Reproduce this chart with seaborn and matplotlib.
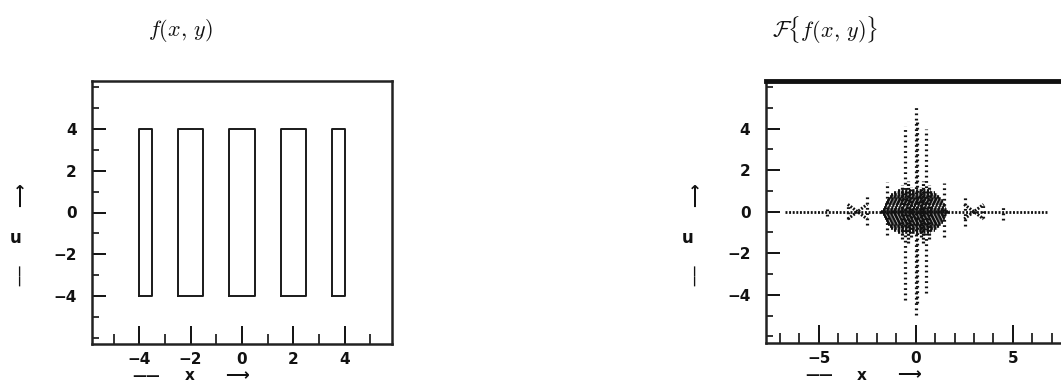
import numpy as np
import pandas as pd
import matplotlib
matplotlib.use("Agg")
import matplotlib.pyplot as plt
import seaborn as sns

# ---- f(x, y): periodic bars of height 8, truncated at |x| = 4 ----
rect_left = [-4.0, -2.5, -0.5, 1.5, 3.5]
rect_right = [-3.5, -1.5, 0.5, 2.5, 4.0]
rect_bottom = -4.0
rect_top = 4.0

# ---- F{f(x, y)}: dotted streaks of the transform magnitude ----
# vertical streaks (u position, lower v, upper v)
col_u = [0.0, 0.08, -0.55, 0.53, -1.5, 1.45, -2.53, 2.52, -3.5, 3.45, -4.55, 4.5]
col_lo = [-4.95, -4.4, -4.25, -3.9, -1.1, -1.2, -0.66, -0.7, -0.35, -0.3, -0.2, -0.4]
col_hi = [5.05, 4.4, 4.1, 4.0, 1.42, 1.4, 0.82, 0.82, 0.35, 0.3, 0.25, 0.3]

# horizontal axis streak along v = 0
axis_from, axis_to = -6.75, 6.75

# dense central lobe, one row per v level (v, left u, right u)
blob_v = [-1.0, -0.9, -0.8, -0.7, -0.6, -0.5, -0.4, -0.3, -0.2, -0.1, 0.0,
          0.1, 0.2, 0.3, 0.4, 0.5, 0.6, 0.7, 0.8, 0.9, 1.0]
blob_left = [-0.9, -1.1, -1.25, -1.35, -1.45, -1.5, -1.55, -1.6, -1.65, -1.7, -1.8,
             -1.7, -1.65, -1.6, -1.55, -1.5, -1.45, -1.35, -1.25, -1.1, -0.9]
blob_right = [0.8, 1.0, 1.15, 1.25, 1.35, 1.4, 1.45, 1.5, 1.55, 1.6, 1.75,
              1.6, 1.55, 1.5, 1.45, 1.4, 1.35, 1.25, 1.15, 1.0, 0.8]

# inner lobes reaching further out along v (u position, lower v, upper v)
lobe_u = [-0.7, -0.4, -0.25, 0.25, 0.4, 0.7]
lobe_lo = [-1.3, -1.5, -1.2, -1.2, -1.5, -1.3]
lobe_hi = [1.3, 1.5, 1.2, 1.2, 1.5, 1.3]

# crossed side lobes (x0, y0, x1, y1)
cross_x0 = [-3.5, -3.5, 2.5, 2.5]
cross_y0 = [0.35, -0.35, 0.35, -0.35]
cross_x1 = [-2.5, -2.5, 3.5, 3.5]
cross_y1 = [-0.35, 0.35, -0.35, 0.35]

# tick labels
left_xticks = [-4, -2, 0, 2, 4]
left_yticks = [-4, -2, 0, 2, 4]
right_xticks = [-5, 0, 5]
right_yticks = [-4, -2, 0, 2, 4]

sns.set_theme(style="white")
plt.rcParams["font.family"] = ["DejaVu Sans"]
plt.rcParams["mathtext.fontset"] = "cm"

W, H = 1061, 385
fig = plt.figure(figsize=(W / 100, H / 100), dpi=100)


def px_box(x0, y0, x1, y1):
    return [x0 / W, 1 - y1 / H, (x1 - x0) / W, (y1 - y0) / H]


ax1 = fig.add_axes(px_box(92, 81, 392, 344))
ax2 = fig.add_axes(px_box(765.7, 80.7, 1065.7, 342.7))

# rectangles as closed outlines
rows = []
for i, (l, r) in enumerate(zip(rect_left, rect_right)):
    xs = [l, r, r, l, l]
    ys = [rect_bottom, rect_bottom, rect_top, rect_top, rect_bottom]
    for k, (x, y) in enumerate(zip(xs, ys)):
        rows.append({"x": x, "y": y, "rect": i, "k": k})
rect_df = pd.DataFrame(rows)
sns.lineplot(data=rect_df, x="x", y="y", units="rect", estimator=None, sort=False,
             color="#1a1a1a", lw=1.4, ax=ax1, legend=False)


def seg_frame(x0, y0, x1, y1):
    out = []
    for i, (a, b, c, d) in enumerate(zip(x0, y0, x1, y1)):
        out.append({"x": a, "y": b, "seg": i})
        out.append({"x": c, "y": d, "seg": i})
    return pd.DataFrame(out)


cols_df = seg_frame(col_u, col_lo, col_u, col_hi)
blob_df = seg_frame(blob_left, blob_v, blob_right, blob_v)
lobe_df = seg_frame(lobe_u, lobe_lo, lobe_u, lobe_hi)
axis_df = seg_frame([axis_from], [0.0], [axis_to], [0.0])
cross_df = seg_frame(cross_x0, cross_y0, cross_x1, cross_y1)

ink = "#111111"
sns.lineplot(data=cols_df, x="x", y="y", units="seg", estimator=None, sort=False,
             color=ink, lw=2.3, linestyle=(0, (0.55, 1.1)), ax=ax2, legend=False)
sns.lineplot(data=blob_df, x="x", y="y", units="seg", estimator=None, sort=False,
             color=ink, lw=2.6, linestyle=(0, (0.6, 0.4)), ax=ax2, legend=False)
sns.lineplot(data=lobe_df, x="x", y="y", units="seg", estimator=None, sort=False,
             color=ink, lw=2.3, linestyle=(0, (0.6, 0.6)), ax=ax2, legend=False)
sns.lineplot(data=axis_df, x="x", y="y", units="seg", estimator=None, sort=False,
             color=ink, lw=2.0, linestyle=(0, (0.7, 0.6)), ax=ax2, legend=False)
sns.lineplot(data=cross_df, x="x", y="y", units="seg", estimator=None, sort=False,
             color=ink, lw=2.2, linestyle=(0, (0.6, 0.5)), ax=ax2, legend=False)

tick_font = dict(fontsize=11, fontweight="bold", color="#111111")

for ax, xlim, xt, yt in [
    (ax1, 5.84, left_xticks, left_yticks),
    (ax2, 7.73, right_xticks, right_yticks),
]:
    ax.set_xlim(-xlim, xlim)
    ax.set_ylim(-6.3, 6.3)
    ax.set_xticks(xt)
    ax.set_yticks(yt)
    ax.set_xticklabels([f"{v}".replace("-", "\u2212") for v in xt], **tick_font)
    ax.set_yticklabels([f"{v}".replace("-", "\u2212") for v in yt], **tick_font)
    ax.xaxis.set_minor_locator(matplotlib.ticker.MultipleLocator(1))
    ax.yaxis.set_minor_locator(matplotlib.ticker.MultipleLocator(1))
    ax.tick_params(axis="x", which="major", direction="in", length=13, width=1.4,
                   pad=6, bottom=True, top=False, colors="#111111")
    ax.tick_params(axis="x", which="minor", direction="in", length=7, width=1.2,
                   bottom=True, top=False, colors="#111111")
    ax.tick_params(axis="y", which="major", direction="in", length=10, width=1.4,
                   pad=11, left=True, right=False, colors="#111111")
    ax.tick_params(axis="y", which="minor", direction="in", length=5, width=1.2,
                   left=True, right=False, colors="#111111")
    ax.set_xlabel("")
    ax.set_ylabel("")
    for s in ax.spines.values():
        s.set_visible(True)
        s.set_color("#222222")
        s.set_linewidth(1.8)
    ax.set_facecolor("white")

ax2.spines["top"].set_linewidth(3.5)
ax2.spines["top"].set_color("#111111")

# titles
fig.text(148 / W, 1 - 30 / H, r"$f(x,\,y)$", fontsize=16, va="center", ha="left",
         color="#111111")
fig.text(772 / W, 1 - 30 / H, r"$\mathcal{F}\{f(x,\,y)\}$", fontsize=16, va="center",
         ha="left", color="#111111")

# axis captions: "—— x ⟶" and a vertical "| u ↑"
lab = dict(fontweight="bold", color="#111111", va="center", ha="center")
for line_c, x_c, arr_c, yy in [(146, 190, 237, 376), (819, 862, 909, 375)]:
    fig.text(line_c / W, 1 - yy / H, "\u2014\u2014", fontsize=10, **lab)
    fig.text(x_c / W, 1 - yy / H, "x", fontsize=11, **lab)
    fig.text(arr_c / W, 1 - (yy - 1) / H, "\u27f6", fontsize=12, **lab)

for xa, xu in [(20, 16), (695, 688)]:
    fig.text(xa / W, 1 - 195 / H, "\u27f6", fontsize=12, rotation=90, **lab)
    fig.text(xu / W, 1 - 238 / H, "u", fontsize=12, **lab)
    fig.text(xa / W, 1 - 275 / H, "\u2014\u2014", fontsize=8, rotation=90, **lab)

fig.savefig("out.png", dpi=100, facecolor="white")
